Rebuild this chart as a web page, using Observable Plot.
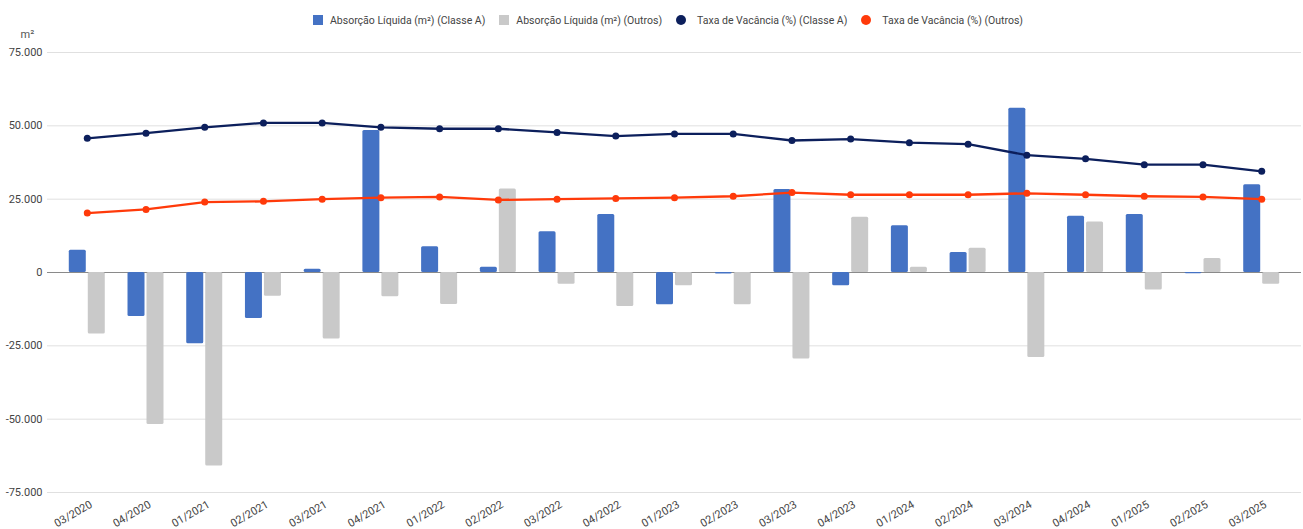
<!DOCTYPE html>
<html>
<head>
<meta charset="utf-8">
<script src="https://cdn.jsdelivr.net/npm/d3@7"></script>
<script src="https://cdn.jsdelivr.net/npm/@observablehq/plot@0.6"></script>
<style>
  body { margin: 0; background: #fff; font-family: Roboto, "Noto Sans", sans-serif; }
  #legend { display: flex; align-items: center; height: 12px; padding-top: 14px; padding-left: 313px; font-size: 10.5px; color: #444; white-space: nowrap; }
  .item { display: flex; align-items: center; margin-right: 14px; }
  .sw { width: 10px; height: 10px; margin-right: 7px; flex: none; }
  .dotsw { border-radius: 50%; margin-right: 11px; }
  #chart svg { display: block; }
</style>
</head>
<body>
<div id="legend"></div>
<div id="chart"></div>
<script>
// Trimestres
const quarters = [
  "03/2020", "04/2020", "01/2021", "02/2021", "03/2021", "04/2021",
  "01/2022", "02/2022", "03/2022", "04/2022", "01/2023", "02/2023",
  "03/2023", "04/2023", "01/2024", "02/2024", "03/2024", "04/2024",
  "01/2025", "02/2025", "03/2025"
];

// Absorção líquida (m²)
const absorcaoClasseA = [
  7600, -15000, -24300, -15700, 1100, 48400,
  8800, 1800, 13900, 19800, -11000, -500,
  28300, -4500, 15900, 6800, 56000, 19200,
  19800, -400, 29900
];
const absorcaoOutros = [
  -21000, -51800, -66000, -8100, -22700, -8300,
  -10900, 28500, -4000, -11600, -4500, -11000,
  -29500, 18800, 1800, 8300, -29000, 17200,
  -6000, 4800, -4000
];

// Taxa de vacância (%) — eixo secundário
const vacanciaClasseA = [
  18.3, 19.0, 19.8, 20.4, 20.4, 19.8,
  19.6, 19.6, 19.1, 18.6, 18.9, 18.9,
  18.0, 18.2, 17.7, 17.5, 16.0, 15.5,
  14.7, 14.7, 13.8
];
const vacanciaOutros = [
  8.1, 8.6, 9.6, 9.7, 10.0, 10.2,
  10.3, 9.9, 10.0, 10.1, 10.2, 10.4,
  10.9, 10.6, 10.6, 10.6, 10.8, 10.6,
  10.4, 10.3, 10.0
];

// Marcas do eixo principal
const yTicks = [-75000, -50000, -25000, 0, 25000, 50000, 75000];
const yDomain = [-75000, 75000];
// Eixo secundário (%) não exibido, alinhado ao eixo principal
const vacDomain = [-30, 30];

const series = [
  {name: "Absorção Líquida (m²) (Classe A)", color: "#4472c4", shape: "square"},
  {name: "Absorção Líquida (m²) (Outros)", color: "#c9c9c9", shape: "square"},
  {name: "Taxa de Vacância (%) (Classe A)", color: "#0c1f5c", shape: "dot"},
  {name: "Taxa de Vacância (%) (Outros)", color: "#ff3a0a", shape: "dot"}
];

const legend = document.getElementById("legend");
for (const s of series) {
  const item = document.createElement("div");
  item.className = "item";
  const sw = document.createElement("span");
  sw.className = "sw" + (s.shape === "dot" ? " dotsw" : "");
  sw.style.background = s.color;
  const label = document.createElement("span");
  label.textContent = s.name;
  item.append(sw, label);
  legend.append(item);
}

const toM2 = d3.scaleLinear().domain(vacDomain).range(yDomain);
const rows = quarters.map((q, i) => ({
  q,
  a: absorcaoClasseA[i],
  o: absorcaoOutros[i],
  va: toM2(vacanciaClasseA[i]),
  vo: toM2(vacanciaOutros[i])
}));

const ptBR = d3.formatLocale({decimal: ",", thousands: ".", grouping: [3], currency: ["R$", ""], minus: "-"});
const fmt = ptBR.format(",");

const chart = Plot.plot({
  width: 1303,
  height: 503,
  marginTop: 26,
  marginBottom: 37,
  marginLeft: 47,
  marginRight: 2,
  style: {fontFamily: "Roboto, 'Noto Sans', sans-serif", fontSize: "11px", color: "#444", background: "#fff"},
  x: {type: "band", domain: quarters, paddingInner: 0.387, paddingOuter: 0.371, round: false},
  y: {domain: yDomain},
  marks: [
    Plot.gridY(yTicks, {stroke: "#e0e0e0", strokeOpacity: 1}),
    Plot.ruleY([0], {stroke: "#8a8a8a", strokeWidth: 1}),
    Plot.barY(rows, {x: "q", y: "a", fill: series[0].color, insetLeft: 0, insetRight: 19, rx: 1.5}),
    Plot.barY(rows, {x: "q", y: "o", fill: series[1].color, insetLeft: 19, insetRight: 0, rx: 1.5}),
    Plot.line(rows, {x: "q", y: "va", stroke: series[2].color, strokeWidth: 2.3}),
    Plot.dot(rows, {x: "q", y: "va", fill: series[2].color, r: 3.5}),
    Plot.line(rows, {x: "q", y: "vo", stroke: series[3].color, strokeWidth: 2.3}),
    Plot.dot(rows, {x: "q", y: "vo", fill: series[3].color, r: 3.5}),
    Plot.axisY(yTicks, {tickSize: 0, tickPadding: 5, tickFormat: fmt, label: null}),
    Plot.axisX({tickSize: 0, tickPadding: 11, tickRotate: -30, label: null, dx: 4}),
    Plot.text(["m²"], {frameAnchor: "top-left", dx: -27, dy: -22, textAnchor: "start", fill: "#555", fontSize: 11})
  ]
});
document.getElementById("chart").append(chart);
</script>
</body>
</html>
